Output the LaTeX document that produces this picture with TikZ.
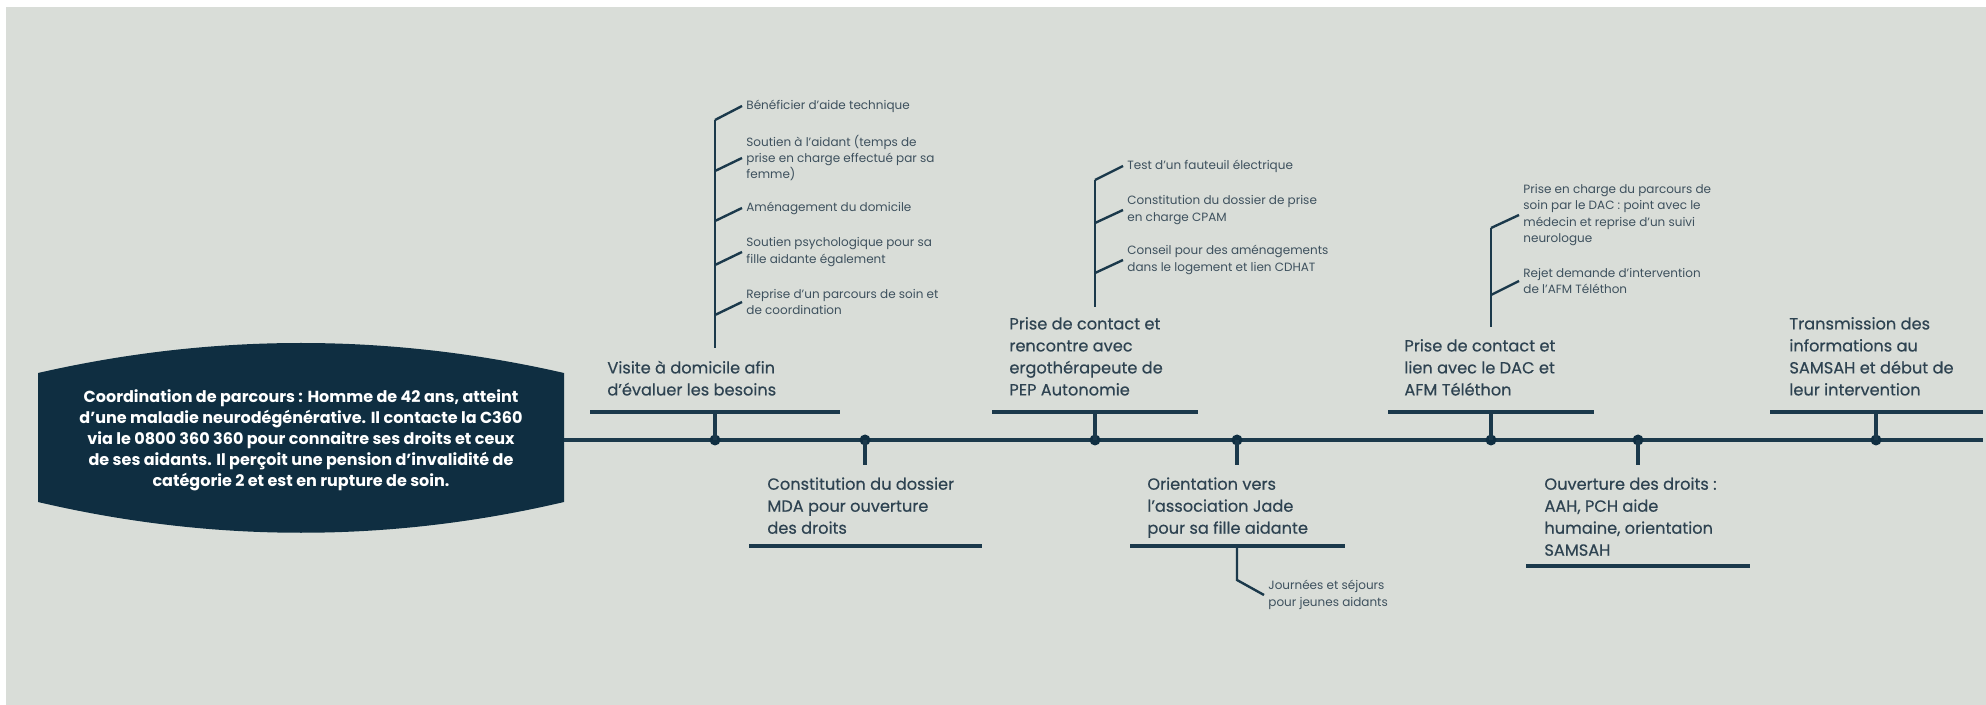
\documentclass[tikz,border=0pt]{standalone}
\usepackage{fontspec}
\setmainfont{Poppins}
\newfontfamily\etapefont{Poppins}[FakeBold=0.4]
\usetikzlibrary{positioning}
\definecolor{fond}{HTML}{D9DDD8}
\definecolor{marine}{HTML}{0F2E41}
\definecolor{trait}{HTML}{1B394B}
\definecolor{texte}{HTML}{2E4351}
\definecolor{detail}{HTML}{3E515E}

\begin{document}
\begin{tikzpicture}[x=0.5pt,y=-0.5pt,
		axe/.style={draw=trait,line width=2pt},
		tige/.style={draw=trait,line width=1.6pt},
		fil/.style={draw=trait,line width=1.2pt},
		etape/.style={align=left,text=texte,inner sep=0pt,
			font=\etapefont\fontsize{8.1}{11}\selectfont},
		note/.style={align=left,text=detail,inner sep=2pt,anchor=west,
			font=\fontsize{6}{8.2}\selectfont},
		point/.style={circle,fill=marine,inner sep=0pt,minimum size=5.5pt}]
		\useasboundingbox (0,0) rectangle (1986,705);
		\fill[white] (0,0) rectangle (1986,705);
		\fill[fond] (6,7) rectangle (1986,705);
		
		% cas de depart
		\fill[marine] (38,373) .. controls (213,333) and (389,333) .. (564,373)
			-- (564,502) .. controls (389,543) and (213,543) .. (38,502) -- cycle;
		\node[align=center,text=white,font=\fontsize{8}{10.5}\bfseries\selectfont] (cas) at (301,440)
			{Coordination de parcours : Homme de 42 ans, atteint\\
			d’une maladie neurodégénérative. Il contacte la C360\\
			via le 0800 360 360 pour connaitre ses droits et ceux\\
			de ses aidants. Il perçoit une pension d’invalidité de\\
			catégorie 2 et est en rupture de soin.};
		
		% ligne du temps
		\coordinate (debut) at (564,440);
		\coordinate (fin) at (1983,440);
		\path[axe] (debut) -- (fin);
		
		\begin{scope}[every node/.style={point}]
			\node (P1) at (715,440) {};
			\node (P2) at (865,440) {};
			\node (P3) at (1095,440) {};
			\node (P4) at (1237,440) {};
			\node (P5) at (1491,440) {};
			\node (P6) at (1638,440) {};
			\node (P7) at (1876,440) {};
		\end{scope}
		
		% etapes au-dessus
		\node[etape,anchor=south west] (E1) at (607,396) {Visite à domicile afin\\d’évaluer les besoins};
		\node[etape,anchor=south west] (E3) at (1009,396) {Prise de contact et\\rencontre avec\\ergothérapeute de\\PEP Autonomie};
		\node[etape,anchor=south west] (E5) at (1404,396) {Prise de contact et\\lien avec le DAC et\\AFM Téléthon};
		\node[etape,anchor=south west] (E7) at (1789,396) {Transmission des\\informations au\\SAMSAH et début de\\leur intervention};
		
		% etapes en dessous
		\node[etape,anchor=north west] (E2) at (767,477) {Constitution du dossier\\MDA pour ouverture\\des droits};
		\node[etape,anchor=north west] (E4) at (1147,477) {Orientation vers\\l’association Jade\\pour sa fille aidante};
		\node[etape,anchor=north west] (E6) at (1544,477) {Ouverture des droits :\\AAH, PCH aide\\humaine, orientation\\SAMSAH};
		
		% barres
		\coordinate (B1g) at (590,412);  \coordinate (B1d) at (840,412);
		\coordinate (B3g) at (992,412);  \coordinate (B3d) at (1198,412);
		\coordinate (B5g) at (1388,412); \coordinate (B5d) at (1594,412);
		\coordinate (B7g) at (1770,412); \coordinate (B7d) at (1983,412);
		\coordinate (B2g) at (749,546);  \coordinate (B2d) at (982,546);
		\coordinate (B4g) at (1130,546); \coordinate (B4d) at (1345,546);
		\coordinate (B6g) at (1526,566); \coordinate (B6d) at (1750,566);
		\path[axe] (B1g) -- (B1d);
		\path[axe] (B3g) -- (B3d);
		\path[axe] (B5g) -- (B5d);
		\path[axe] (B7g) -- (B7d);
		\path[axe] (B2g) -- (B2d);
		\path[axe] (B4g) -- (B4d);
		\path[axe] (B6g) -- (B6d);
		
		\path[tige] (P1.center) -- (P1 |- B1g);
		\path[tige] (P3.center) -- (P3 |- B3g);
		\path[tige] (P5.center) -- (P5 |- B5g);
		\path[tige] (P7.center) -- (P7 |- B7g);
		\coordinate (T2) at (865,465);
		\coordinate (T4) at (1237,465);
		\coordinate (T6) at (1638,465);
		\path[tige] (P2.center) -- (T2);
		\path[tige] (P4.center) -- (T4);
		\path[tige] (P6.center) -- (T6);
		
		% details visite
		\node[note] (N11) at (742,106) {Bénéficier d’aide technique};
		\node[note] (N12) at (742,158) {Soutien à l’aidant (temps de\\prise en charge effectué par sa\\femme)};
		\node[note] (N13) at (742,208) {Aménagement du domicile};
		\node[note] (N14) at (742,252) {Soutien psychologique pour sa\\fille aidante également};
		\node[note] (N15) at (742,302) {Reprise d’un parcours de soin et\\de coordination};
		\coordinate (S1h) at (715,120);
		\coordinate (S1b) at (715,348);
		\coordinate (A12) at (715,171);
		\coordinate (A13) at (715,221);
		\coordinate (A14) at (715,265);
		\coordinate (A15) at (715,315);
		\path[fil] (S1b) -- (S1h);
		\path[fil] (S1h) -- (N11.west);
		\path[fil] (A12) -- (N12.west);
		\path[fil] (A13) -- (N13.west);
		\path[fil] (A14) -- (N14.west);
		\path[fil] (A15) -- (N15.west);
		
		% details PEP
		\node[note] (N31) at (1123,166) {Test d’un fauteuil électrique};
		\node[note] (N32) at (1123,210) {Constitution du dossier de prise\\en charge CPAM};
		\node[note] (N33) at (1123,260) {Conseil pour des aménagements\\dans le logement et lien CDHAT};
		\coordinate (S3h) at (1095,180);
		\coordinate (S3b) at (1095,307);
		\coordinate (A32) at (1095,223);
		\coordinate (A33) at (1095,273);
		\path[fil] (S3b) -- (S3h);
		\path[fil] (S3h) -- (N31.west);
		\path[fil] (A32) -- (N32.west);
		\path[fil] (A33) -- (N33.west);
		
		% details DAC
		\node[note] (N51) at (1519,215) {Prise en charge du parcours de\\soin par le DAC : point avec le\\médecin et reprise d’un suivi\\neurologue};
		\node[note] (N52) at (1519,281) {Rejet demande d’intervention\\de l’AFM Téléthon};
		\coordinate (S5h) at (1491,228);
		\coordinate (S5b) at (1491,327);
		\coordinate (A52) at (1491,295);
		\path[fil] (S5b) -- (S5h);
		\path[fil] (S5h) -- (N51.west);
		\path[fil] (A52) -- (N52.west);
		
		% details Jade
		\node[note] (N41) at (1264,595) {Journées et séjours\\pour jeunes aidants};
		\coordinate (S4b) at (1237,580);
		\path[fil] (P4 |- B4g) -- (S4b) -- (N41.west);
	\end{tikzpicture}
\end{document}
